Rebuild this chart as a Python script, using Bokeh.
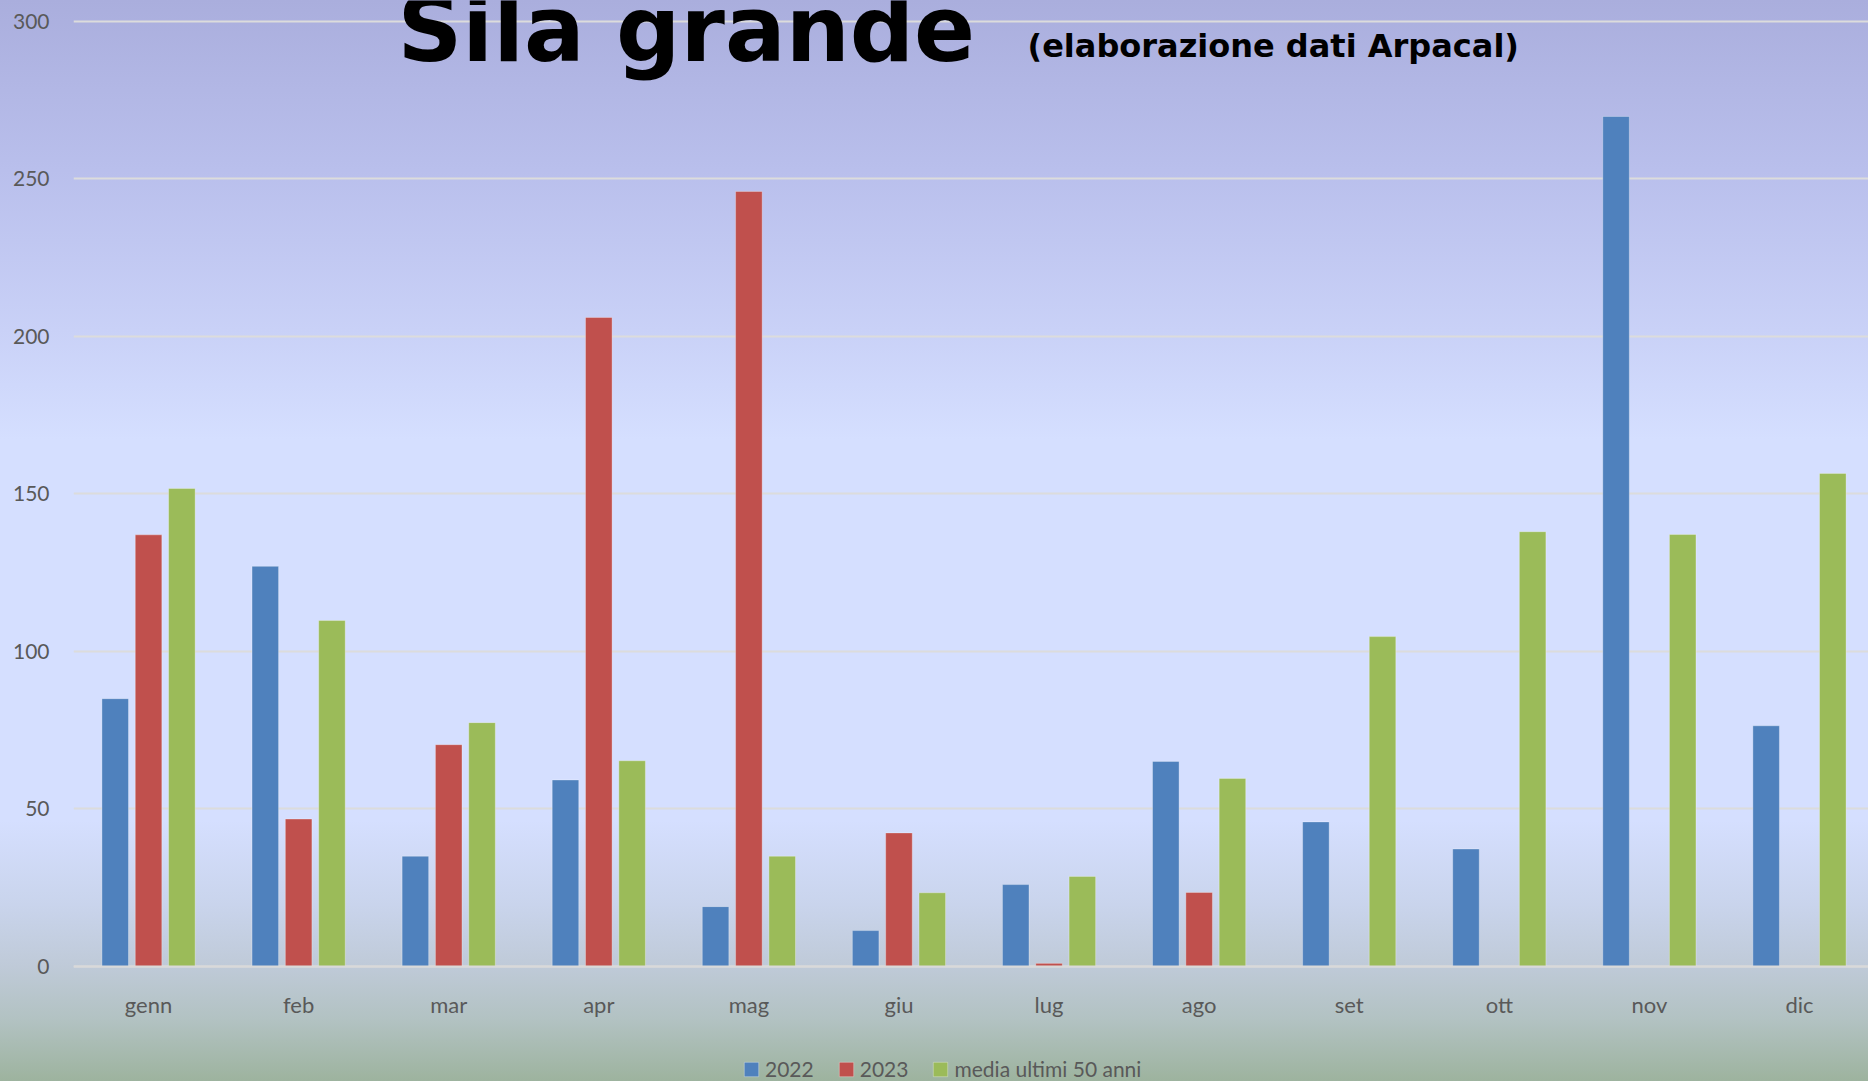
from bokeh.plotting import figure
from bokeh.models import (Range1d, FixedTicker, Legend, LegendItem, Label,
                          InlineStyleSheet, ColumnDataSource)
from bokeh.transform import dodge
from bokeh.embed import file_html
from bokeh.resources import INLINE

nan = float("nan")

months = ["genn", "feb", "mar", "apr", "mag", "giu", "lug", "ago", "set", "ott", "nov", "dic"]
y2022 = [85, 127, 35, 59.2, 19, 11.4, 26, 65.1, 45.9, 37.3, 269.8, 76.4]
y2023 = [137, 46.8, 70.4, 206, 246, 42.4, 1, 23.5, nan, nan, nan, nan]
media = [151.7, 109.8, 77.4, 65.3, 35, 23.4, 28.6, 59.7, 104.7, 138, 137.1, 156.5]
series_names = ["2022", "2023", "media ultimi 50 anni"]
y_ticks = [0, 50, 100, 150, 200, 250, 300]
title_text = "Sila grande"
subtitle_text = "(elaborazione dati Arpacal)"

colors = ["#4f81bd", "#c0504d", "#9bbb59"]

xpos = [i + 0.5 for i in range(len(months))]
src = ColumnDataSource(dict(x=xpos, a=y2022, b=y2023, c=media))

W, H = 1868, 1081
p = figure(width=W, height=H, output_backend="svg", toolbar_location=None,
           x_range=Range1d(0, 11.96), y_range=Range1d(-36.5, 306.6),
           min_border_left=73, min_border_right=0, min_border_top=0,
           min_border_bottom=0)
p.background_fill_color = None
p.border_fill_color = None
p.outline_line_color = None
p.stylesheets = [InlineStyleSheet(css="""
:host {
  background: linear-gradient(to bottom,
    #aaaedd 0px, #b9bfec 170px, #c9d1f7 330px, #d5dfff 440px,
    #d5dfff 820px, #c9d4ec 905px, #bfcad8 966px, #b2c2c2 1020px, #9db39e 1081px);
}
""")]

bw = 0.177
off = 0.222
renderers = []
for key, o, c in zip(["a", "b", "c"], [-off, 0, off], colors):
    r = p.vbar(x=dodge("x", o, range=p.x_range), top=key, bottom=0, width=bw,
               source=src, fill_color=c, line_color="#ffffff", line_alpha=0.3,
               line_width=1)
    renderers.append(r)

# axes
p.xaxis.fixed_location = 0
p.xaxis.ticker = FixedTicker(ticks=xpos)
p.xaxis.major_label_overrides = {x: m for x, m in zip(xpos, months)}
p.xaxis.axis_line_color = "#d9d9d9"
p.xaxis.axis_line_width = 2
p.xaxis.major_tick_line_color = None
p.xaxis.minor_tick_line_color = None
p.xaxis.major_label_standoff = 18
p.xaxis.major_label_text_font = "Lato"
p.xaxis.major_label_text_font_size = "22px"
p.xaxis.major_label_text_color = "#595959"

p.yaxis.ticker = FixedTicker(ticks=y_ticks)
p.yaxis.axis_line_color = None
p.yaxis.major_tick_line_color = None
p.yaxis.minor_tick_line_color = None
p.yaxis.major_label_standoff = 18
p.yaxis.major_label_text_font = "Lato"
p.yaxis.major_label_text_font_size = "21px"
p.yaxis.major_label_text_color = "#595959"

p.xgrid.visible = False
p.ygrid.ticker = FixedTicker(ticks=y_ticks)
p.ygrid.grid_line_color = "#dcdcdc"
p.ygrid.grid_line_width = 2

# title texts (screen offsets from the frame's bottom-left)
p.add_layout(Label(x=324, y=1052, x_units="screen", y_units="screen",
                   text=title_text, text_font="DejaVu Sans", text_font_style="bold",
                   text_font_size="90px", text_color="black",
                   text_baseline="alphabetic"))
p.add_layout(Label(x=954, y=1036, x_units="screen", y_units="screen",
                   text=subtitle_text, text_font="DejaVu Sans", text_font_style="bold",
                   text_font_size="32px", text_color="black",
                   text_baseline="alphabetic"))

legend = Legend(items=[LegendItem(label=n, renderers=[r]) for n, r in zip(series_names, renderers)],
                orientation="horizontal", location=(669, 0),
                glyph_width=18, glyph_height=18, label_standoff=5, spacing=23,
                padding=0, margin=0, background_fill_alpha=0, border_line_color=None,
                label_text_font="Lato", label_text_font_size="21px",
                label_text_color="#595959")
p.add_layout(legend)

open("out.html", "w").write(file_html(p, INLINE))
